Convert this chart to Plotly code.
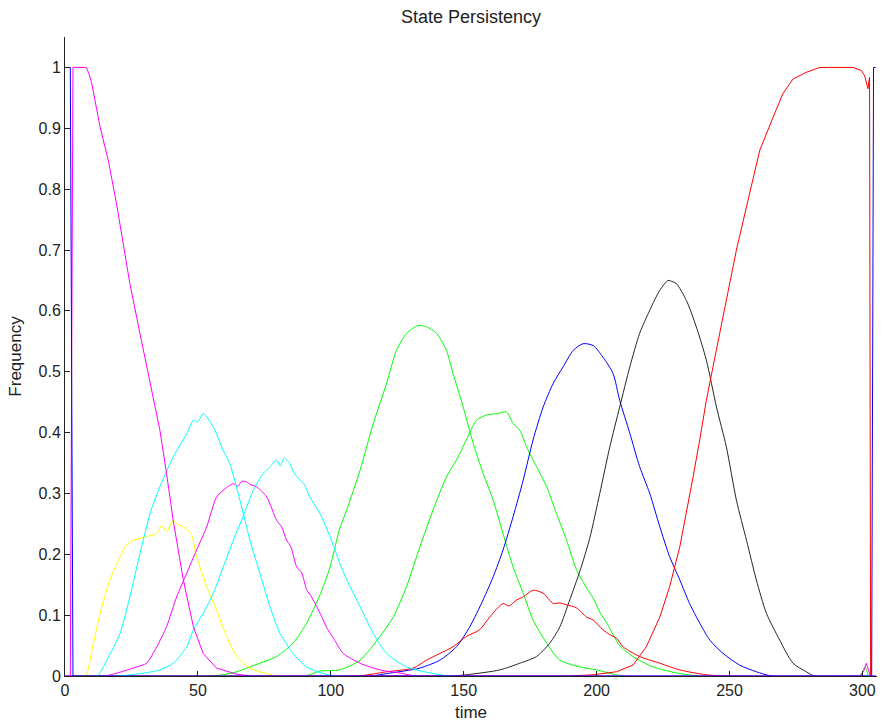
import plotly.graph_objects as go

# Frequency of each state over time (time steps, fraction of runs in that state)

rest_t = [0, 2, 3, 303.5, 304.2, 305]
rest_v = [1, 1, 0, 0, 1, 1]

mag1_t = [0, 2, 3, 5, 8, 9, 10, 13.2, 16.3, 19.4, 24.4, 28.2, 32, 35.7, 38.2, 40.7, 44.5,
          48.3, 52, 57, 64.5, 70, 299, 300.5, 301.5, 302.5, 303, 305]
mag1_v = [0, 0, 1, 1, 1, 0.99, 0.975, 0.902, 0.847, 0.776, 0.645, 0.563, 0.481, 0.404,
          0.333, 0.256, 0.158, 0.081, 0.037, 0.013, 0.003, 0, 0, 0.008, 0.021, 0.005, 0, 0]

yel_t = [0, 7, 8, 10.7, 13.2, 16.9, 20.7, 23, 25.7, 30.7, 34.5, 36.4, 38.2, 40.7, 42,
         44.5, 47.4, 49.5, 53.3, 57, 60.8, 64.6, 69.6, 75.9, 80, 305]
yel_v = [0, 0, 0.002, 0.054, 0.103, 0.158, 0.196, 0.215, 0.223, 0.229, 0.234, 0.247,
         0.237, 0.256, 0.250, 0.245, 0.234, 0.196, 0.147, 0.108, 0.065, 0.032, 0.013,
         0.004, 0, 0]

cyan1_t = [0, 12, 15.7, 20.7, 24.4, 28.2, 32, 35.7, 40.7, 45.8, 48.3, 50, 52, 55.8,
           59.5, 62, 65.8, 69.6, 73.3, 77.1, 80.9, 85.8, 90.9, 97.1, 102, 305]
cyan1_v = [0, 0, 0.026, 0.070, 0.130, 0.201, 0.267, 0.311, 0.360, 0.398, 0.420, 0.418,
           0.431, 0.409, 0.371, 0.349, 0.289, 0.223, 0.169, 0.114, 0.070, 0.037, 0.015,
           0.004, 0, 0]

mag2_t = [0, 15, 22, 27, 30.7, 34.5, 38.2, 42, 45.8, 49.5, 53.3, 57, 59.5, 63.3, 65,
          66.5, 68.3, 70, 72.1, 75.9, 79.6, 81.5, 83.4, 85, 87.2, 89, 91, 92.5, 94.7,
          96.5, 98.4, 101, 104.7, 111, 118.5, 126, 132, 305]
mag2_v = [0, 0, 0.008, 0.015, 0.021, 0.048, 0.081, 0.130, 0.169, 0.207, 0.245, 0.294,
          0.305, 0.316, 0.312, 0.320, 0.319, 0.314, 0.311, 0.294, 0.256, 0.245, 0.223,
          0.212, 0.179, 0.170, 0.141, 0.132, 0.114, 0.098, 0.080, 0.062, 0.037, 0.021,
          0.010, 0.005, 0, 0]

cyan2_t = [0, 20, 30, 35.7, 40.7, 45.8, 48.3, 52, 55.8, 59.5, 63.3, 67, 70.8, 74.6, 77,
           79.6, 81, 82.5, 84.6, 86, 88.4, 90, 92.1, 95.9, 99.7, 103.4, 106, 111, 116,
           121, 128.5, 138.5, 145, 305]
cyan2_v = [0, 0, 0.005, 0.010, 0.021, 0.048, 0.076, 0.103, 0.136, 0.179, 0.223, 0.262,
           0.305, 0.333, 0.343, 0.355, 0.345, 0.358, 0.349, 0.335, 0.322, 0.315, 0.294,
           0.267, 0.229, 0.185, 0.158, 0.114, 0.070, 0.037, 0.015, 0.004, 0, 0]

grn1_t = [0, 55, 63, 73.3, 79.6, 85.8, 90.9, 95.9, 99.7, 103.4, 106, 111, 116, 121,
          124.7, 128.5, 132.9, 136, 139.8, 143.5, 146, 149.8, 153.6, 157.3, 161.1,
          164.8, 168.6, 172.4, 176.1, 181.2, 186.2, 193.7, 200, 210, 299, 301, 302.5, 305]
grn1_v = [0, 0, 0.005, 0.021, 0.032, 0.054, 0.087, 0.133, 0.179, 0.243, 0.273, 0.338,
          0.415, 0.481, 0.535, 0.563, 0.576, 0.574, 0.563, 0.535, 0.497, 0.442, 0.382,
          0.333, 0.289, 0.234, 0.179, 0.136, 0.092, 0.054, 0.026, 0.015, 0.010, 0, 0,
          0.015, 0, 0]

grn2_t = [0, 90, 96, 103.4, 111, 118.5, 123.5, 128.5, 133.5, 138.5, 143.5, 147.3, 151,
          154.8, 158.6, 162.4, 166.1, 168.6, 171.1, 173.6, 177.4, 181.2, 184.9, 188.7,
          192.4, 196.2, 198.7, 201.2, 203.7, 208.7, 213.7, 221.2, 231.3, 240, 305]
grn2_v = [0, 0, 0.008, 0.010, 0.026, 0.065, 0.097, 0.147, 0.212, 0.273, 0.327, 0.355,
          0.388, 0.420, 0.429, 0.431, 0.434, 0.415, 0.404, 0.377, 0.344, 0.311, 0.267,
          0.223, 0.175, 0.145, 0.128, 0.105, 0.088, 0.050, 0.032, 0.015, 0.004, 0, 0]

red1_t = [0, 110, 121, 131, 136, 141, 146, 151, 156, 159.8, 164.8, 167, 169.9, 172.4,
          176.1, 179.9, 183.7, 186, 188.7, 192.4, 196.2, 198.7, 202.4, 205, 207.5, 210,
          216.2, 223.8, 231.3, 241.3, 250, 305]
red1_v = [0, 0, 0.007, 0.013, 0.026, 0.037, 0.048, 0.065, 0.076, 0.097, 0.119, 0.115,
          0.125, 0.130, 0.141, 0.136, 0.119, 0.120, 0.117, 0.112, 0.097, 0.092, 0.076,
          0.068, 0.062, 0.048, 0.032, 0.021, 0.010, 0.002, 0, 0]

blue_t = [0, 115, 121, 133.5, 141, 147.3, 152.3, 157.3, 161.1, 164.8, 168.6, 172.4,
          176.1, 179.9, 183.7, 187.4, 191.2, 194.9, 198.7, 202.4, 206.2, 208.7, 212.5,
          216.2, 220, 223.8, 227.5, 231.3, 235, 238.8, 242.6, 247.6, 253.8, 260.1, 266, 305]
blue_v = [0, 0, 0.004, 0.013, 0.026, 0.048, 0.081, 0.125, 0.163, 0.207, 0.262, 0.322,
          0.388, 0.442, 0.481, 0.508, 0.535, 0.546, 0.543, 0.524, 0.497, 0.453, 0.399,
          0.344, 0.300, 0.245, 0.196, 0.158, 0.119, 0.087, 0.059, 0.037, 0.018, 0.007,
          0, 0]

blk_t = [0, 145, 151, 163.6, 171.1, 177.4, 182.4, 186.2, 189.9, 193.7, 197.4, 201.2,
         205, 208.7, 212.5, 216.2, 220, 223.8, 226.9, 228.5, 230, 233.8, 237.5, 241.3,
         245.1, 248.8, 252.6, 256.4, 260.1, 263.9, 268.9, 273.9, 278.9, 282, 305]
blk_v = [0, 0, 0.002, 0.010, 0.021, 0.032, 0.054, 0.081, 0.125, 0.172, 0.226, 0.300,
         0.377, 0.442, 0.508, 0.563, 0.601, 0.634, 0.650, 0.648, 0.645, 0.617, 0.574,
         0.519, 0.442, 0.377, 0.289, 0.223, 0.158, 0.103, 0.059, 0.021, 0.007, 0, 0]

red2_t = [0, 190, 198.7, 207.5, 213.7, 218.7, 223.8, 227.5, 231.3, 233.8, 236.3, 238.8,
          241.3, 243.8, 246.3, 248.8, 252.6, 256.4, 261.4, 266.4, 270.1, 273.9, 278.9,
          284, 296.5, 299.6, 300.8, 302.1, 302.7, 303.1, 305]
red2_v = [0, 0, 0.002, 0.007, 0.018, 0.048, 0.097, 0.147, 0.212, 0.267, 0.327, 0.388,
          0.453, 0.508, 0.563, 0.617, 0.700, 0.771, 0.864, 0.918, 0.957, 0.981, 0.992,
          1.0, 1.0, 0.995, 0.987, 0.965, 0.984, 0, 0]

x_ticks = [0, 50, 100, 150, 200, 250, 300]
y_ticks = [0, 0.1, 0.2, 0.3, 0.4, 0.5, 0.6, 0.7, 0.8, 0.9, 1]
y_tick_text = ["0", "0.1", "0.2", "0.3", "0.4", "0.5", "0.6", "0.7", "0.8", "0.9", "1"]

# (times, values, colour, smooth the bell shape?)
series = [
    (grn1_t, grn1_v, "#00ff00", True),
    (grn2_t, grn2_v, "#00ff00", True),
    (blue_t, blue_v, "#0000ff", True),
    (blk_t, blk_v, "#000000", True),
    (yel_t, yel_v, "#ffff00", True),
    (red2_t, red2_v, "#ff0000", False),
    (red1_t, red1_v, "#ff0000", True),
    (cyan2_t, cyan2_v, "#00ffff", True),
    (mag2_t, mag2_v, "#ff00ff", True),
    (cyan1_t, cyan1_v, "#00ffff", True),
    (mag1_t, mag1_v, "#ff00ff", False),
    (rest_t, rest_v, "#0000ff", False),
]

fig = go.Figure()
for t, v, c, smooth in series:
    line = dict(color=c, width=1)
    if smooth:
        line.update(shape="spline", smoothing=0.7)
    fig.add_trace(go.Scatter(x=t, y=v, mode="lines", line=line,
                             opacity=0.85 if c == "#000000" else 1.0,
                             showlegend=False, hoverinfo="skip"))

font_family = "Liberation Sans, Arial, sans-serif"
fig.update_layout(
    width=882, height=723,
    margin=dict(l=65, r=5, t=37, b=47),
    paper_bgcolor="white", plot_bgcolor="white",
    font=dict(family=font_family, size=16, color="#222222"),
    title=dict(text="State Persistency", x=0.534, xanchor="center", y=0.985,
               yanchor="top", font=dict(size=18, color="#222222")),
    xaxis=dict(range=[0, 305.5], tickvals=x_ticks, ticks="inside", ticklen=5,
               tickcolor="#222222", showline=True, linecolor="#222222", linewidth=1,
               showgrid=False, zeroline=False, mirror=False,
               title=dict(text="time", standoff=7, font=dict(size=17))),
    yaxis=dict(range=[0, 1.05], tickvals=y_ticks, ticktext=y_tick_text,
               ticks="inside", ticklen=5, tickcolor="#222222", showline=True,
               linecolor="#222222", linewidth=1, showgrid=False, zeroline=False,
               mirror=False, title=dict(text="Frequency", standoff=12,
                                        font=dict(size=17))),
)

fig.write_html("out.html")
